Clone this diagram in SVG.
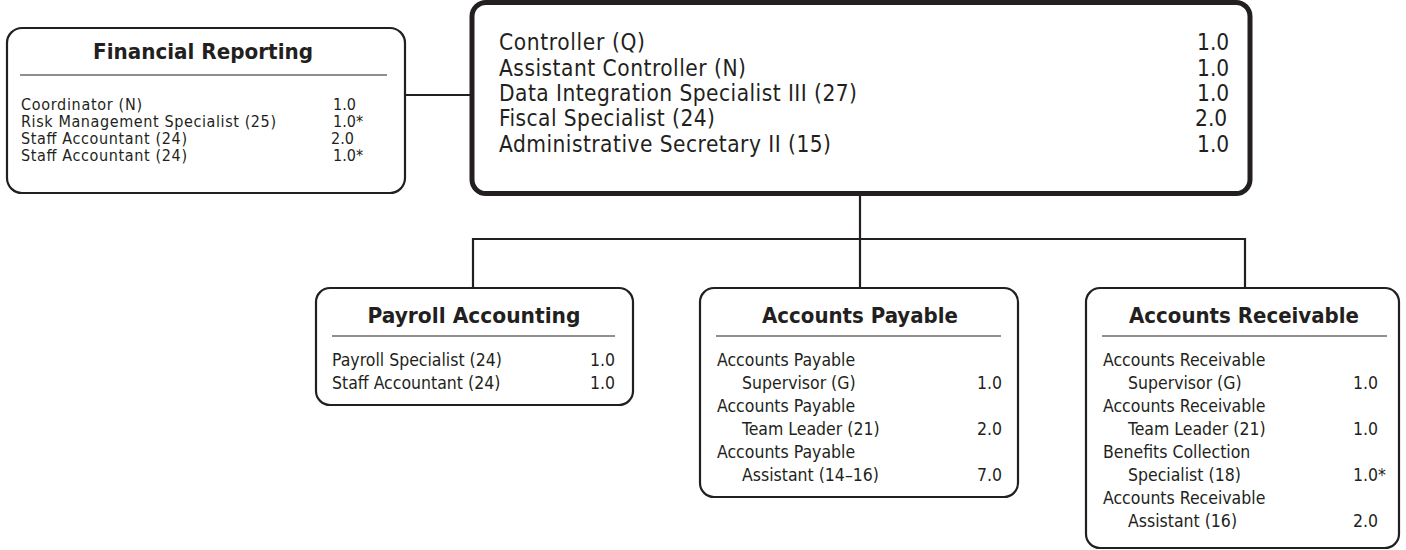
<svg xmlns="http://www.w3.org/2000/svg" width="1406" height="550" viewBox="0 0 1406 550">
<style>
.box{fill:#fff;stroke:#231f20;stroke-width:2.2}
.main{stroke-width:5}
.conn{stroke:#231f20;stroke-width:2.2;fill:none}
.rule{stroke:#231f20;stroke-width:1.2}
text{font-family:"Liberation Sans Narrow","DejaVu Sans Condensed","Liberation Sans",sans-serif;fill:#231f20}
.ttl{font-weight:bold;font-size:21px;text-anchor:middle}
.s{font-size:16px}
.m{font-size:17.5px}
.b{font-size:22.5px}
</style>
<rect width="1406" height="550" fill="#fff"/>
<g id="connectors">
<line class="conn" x1="405" y1="95" x2="472" y2="95"/>
<line class="conn" x1="860" y1="194" x2="860" y2="288"/>
<polyline class="conn" points="473,288 473,239 1245,239 1245,288"/>
</g>
<g id="financial-reporting">
<rect class="box" x="7" y="28" width="398" height="165" rx="15"/>
<text class="ttl" x="203" y="59" textLength="220" lengthAdjust="spacingAndGlyphs">Financial Reporting</text>
<line class="rule" x1="20" y1="75" x2="387" y2="75"/>
<text class="s" x="21" y="110" textLength="121">Coordinator (N)</text><text class="s" x="333" y="110">1.0</text>
<text class="s" x="21" y="127" textLength="255">Risk Management Specialist (25)</text><text class="s" x="333" y="127">1.0*</text>
<text class="s" x="21" y="144" textLength="166">Staff Accountant (24)</text><text class="s" x="331" y="144">2.0</text>
<text class="s" x="21" y="161" textLength="166">Staff Accountant (24)</text><text class="s" x="333" y="161">1.0*</text>
</g>
<g id="controller">
<rect class="box main" x="472" y="2.5" width="778" height="191" rx="14"/>
<text class="b" x="499" y="50" textLength="146">Controller (Q)</text><text class="b" x="1197" y="50">1.0</text>
<text class="b" x="499" y="76" textLength="247">Assistant Controller (N)</text><text class="b" x="1197" y="76">1.0</text>
<text class="b" x="499" y="101" textLength="358">Data Integration Specialist III (27)</text><text class="b" x="1197" y="101">1.0</text>
<text class="b" x="499" y="126" textLength="216">Fiscal Specialist (24)</text><text class="b" x="1195" y="126">2.0</text>
<text class="b" x="499" y="152" textLength="332">Administrative Secretary II (15)</text><text class="b" x="1197" y="152">1.0</text>
</g>
<g id="payroll-accounting">
<rect class="box" x="316" y="288" width="317" height="117" rx="14"/>
<text class="ttl" x="474" y="323" textLength="213" lengthAdjust="spacingAndGlyphs">Payroll Accounting</text>
<line class="rule" x1="332" y1="336" x2="615" y2="336"/>
<text class="m" x="332" y="366">Payroll Specialist (24)</text><text class="m" x="590" y="366">1.0</text>
<text class="m" x="332" y="389">Staff Accountant (24)</text><text class="m" x="590" y="389">1.0</text>
</g>
<g id="accounts-payable">
<rect class="box" x="700" y="288" width="318" height="209" rx="14"/>
<text class="ttl" x="860" y="323" textLength="196" lengthAdjust="spacingAndGlyphs">Accounts Payable</text>
<line class="rule" x1="716" y1="336" x2="1001" y2="336"/>
<text class="m" x="717" y="366">Accounts Payable</text>
<text class="m" x="742" y="389">Supervisor (G)</text><text class="m" x="977" y="389">1.0</text>
<text class="m" x="717" y="412">Accounts Payable</text>
<text class="m" x="742" y="435">Team Leader (21)</text><text class="m" x="977" y="435">2.0</text>
<text class="m" x="717" y="458">Accounts Payable</text>
<text class="m" x="742" y="481">Assistant (14–16)</text><text class="m" x="977" y="481">7.0</text>
</g>
<g id="accounts-receivable">
<rect class="box" x="1086" y="288" width="313" height="260" rx="14"/>
<text class="ttl" x="1244" y="323" textLength="230" lengthAdjust="spacingAndGlyphs">Accounts Receivable</text>
<line class="rule" x1="1102" y1="336" x2="1387" y2="336"/>
<text class="m" x="1103" y="366">Accounts Receivable</text>
<text class="m" x="1128" y="389">Supervisor (G)</text><text class="m" x="1353" y="389">1.0</text>
<text class="m" x="1103" y="412">Accounts Receivable</text>
<text class="m" x="1128" y="435">Team Leader (21)</text><text class="m" x="1353" y="435">1.0</text>
<text class="m" x="1103" y="458">Benefits Collection</text>
<text class="m" x="1128" y="481">Specialist (18)</text><text class="m" x="1353" y="481">1.0*</text>
<text class="m" x="1103" y="504">Accounts Receivable</text>
<text class="m" x="1128" y="527">Assistant (16)</text><text class="m" x="1353" y="527">2.0</text>
</g>
</svg>
